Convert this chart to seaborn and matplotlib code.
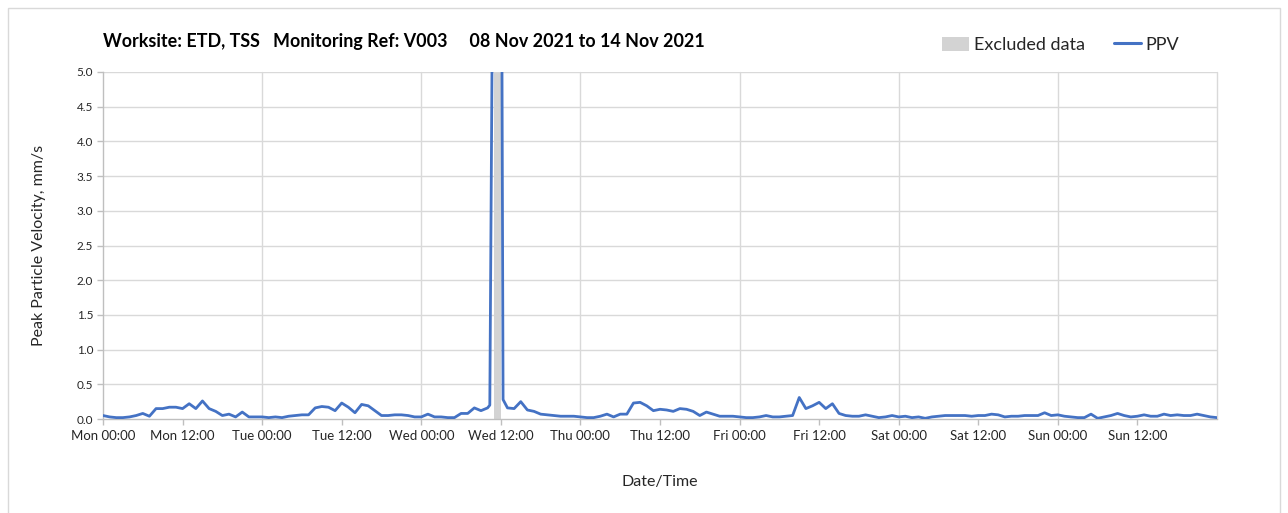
import numpy as np
import pandas as pd
import matplotlib
matplotlib.use("Agg")
import matplotlib.pyplot as plt
import matplotlib.dates as mdates
from matplotlib.patches import Patch, Rectangle
from matplotlib.lines import Line2D
import seaborn as sns

# ---------------- data (hourly PPV, mm/s) ----------------
start = "2021-11-08 00:00"
ppv_mon = [0.05, 0.03, 0.02, 0.02, 0.03, 0.05, 0.08, 0.04, 0.15, 0.15, 0.17, 0.17,
           0.15, 0.22, 0.15, 0.26, 0.15, 0.11, 0.05, 0.07, 0.03, 0.10, 0.03, 0.03]
ppv_tue = [0.03, 0.02, 0.03, 0.02, 0.04, 0.05, 0.06, 0.06, 0.16, 0.18, 0.17, 0.12,
           0.23, 0.17, 0.09, 0.21, 0.19, 0.12, 0.05, 0.05, 0.06, 0.06, 0.05, 0.03]
ppv_wed = [0.03, 0.07, 0.03, 0.03, 0.02, 0.02, 0.08, 0.08, 0.16, 0.12, 0.16, 10.0,
           10.0, 0.16, 0.15, 0.25, 0.13, 0.11, 0.07, 0.06, 0.05, 0.04, 0.04, 0.04]
ppv_thu = [0.03, 0.02, 0.02, 0.04, 0.07, 0.03, 0.07, 0.07, 0.23, 0.24, 0.19, 0.12,
           0.14, 0.13, 0.11, 0.15, 0.14, 0.11, 0.05, 0.10, 0.07, 0.04, 0.04, 0.04]
ppv_fri = [0.03, 0.02, 0.02, 0.03, 0.05, 0.03, 0.03, 0.04, 0.05, 0.31, 0.15, 0.19,
           0.24, 0.15, 0.22, 0.08, 0.05, 0.04, 0.04, 0.06, 0.04, 0.02, 0.03, 0.05]
ppv_sat = [0.03, 0.04, 0.02, 0.03, 0.01, 0.03, 0.04, 0.05, 0.05, 0.05, 0.05, 0.04,
           0.05, 0.05, 0.07, 0.06, 0.03, 0.04, 0.04, 0.05, 0.05, 0.05, 0.09, 0.05]
ppv_sun = [0.06, 0.04, 0.03, 0.02, 0.02, 0.07, 0.01, 0.03, 0.05, 0.08, 0.05, 0.03,
           0.04, 0.06, 0.04, 0.04, 0.07, 0.05, 0.06, 0.05, 0.05, 0.07, 0.05, 0.03]
ppv_end = [0.02]

# extra readings around the excluded event
extra_times = ["2021-11-10 10:20", "2021-11-10 12:20"]
extra_ppv = [0.20, 0.28]

excluded_start = "2021-11-10 11:00"
excluded_end = "2021-11-10 12:00"

title = "Worksite: ETD, TSS   Monitoring Ref: V003     08 Nov 2021 to 14 Nov 2021"
ylabel = "Peak Particle Velocity, mm/s"
xlabel = "Date/Time"

# ---------------- build frame ----------------
hourly = ppv_mon + ppv_tue + ppv_wed + ppv_thu + ppv_fri + ppv_sat + ppv_sun + ppv_end
times = pd.date_range(start, periods=len(hourly), freq="h")
df = pd.DataFrame({"time": list(times) + list(pd.to_datetime(extra_times)),
                   "ppv": hourly + extra_ppv}).sort_values("time").reset_index(drop=True)

# ---------------- style ----------------
sns.set_theme(style="white")
plt.rcParams["font.family"] = ["Lato", "DejaVu Sans"]

blue = "#4472C4"
grid_c = "#D9D9D9"
axis_c = "#BFBFBF"
text_c = "#262626"

fig = plt.figure(figsize=(12.88, 5.13), dpi=100)
ax = fig.add_axes([103 / 1288, 1 - 419 / 513, (1217 - 103) / 1288, (419 - 72) / 513])

ax.axvspan(pd.Timestamp(excluded_start), pd.Timestamp(excluded_end),
           color="#D3D3D3", lw=0, zorder=1)
sns.lineplot(data=df, x="time", y="ppv", ax=ax, color=blue, linewidth=2.0,
             zorder=3, legend=False)

x0 = pd.Timestamp(start)
x1 = x0 + pd.Timedelta(days=7)
ax.set_xlim(x0, x1)
ax.set_ylim(0, 5.0)

ax.set_yticks(np.arange(0, 5.01, 0.5))
ax.yaxis.set_major_formatter(matplotlib.ticker.FormatStrFormatter("%.1f"))
ax.set_xticks(pd.date_range(x0, x1 - pd.Timedelta(hours=12), freq="12h"))
ax.xaxis.set_major_formatter(mdates.DateFormatter("%a %H:%M"))

# grid: horizontal every 0.5, vertical at day boundaries
for v in np.arange(0.5, 5.01, 0.5):
    ax.axhline(v, color=grid_c, lw=1.0, zorder=0)
for d in pd.date_range(x0 + pd.Timedelta(days=1), x1, freq="D"):
    ax.axvline(d, color=grid_c, lw=1.0, zorder=0, clip_on=False)

for s in ["top", "right"]:
    ax.spines[s].set_visible(False)
for s in ["left", "bottom"]:
    ax.spines[s].set_color(axis_c)
    ax.spines[s].set_linewidth(1.0)

ax.tick_params(axis="both", which="major", direction="out", length=4, width=1,
               color=axis_c, labelcolor=text_c)
ax.tick_params(axis="x", labelsize=9.5, pad=4)
ax.tick_params(axis="y", labelsize=8.5, pad=3)
ax.tick_params(bottom=True, left=True)

ax.set_xlabel(xlabel, fontsize=11.5, color=text_c, labelpad=24)
ax.set_ylabel(ylabel, fontsize=11.5, color=text_c, labelpad=22)

fig.text(103 / 1288, 1 - 42 / 513, title, fontsize=12.9, fontweight="bold",
         color="#000000", ha="left", va="center")

handles = [Patch(facecolor="#D3D3D3", edgecolor="none"),
           Line2D([0], [0], color=blue, lw=2.2)]
fig.legend(handles, ["Excluded data", "PPV"], loc="center left",
           bbox_to_anchor=(926 / 1288, 1 - 45 / 513), ncol=2, frameon=False,
           fontsize=13, handlelength=1.5, handleheight=0.8, handletextpad=0.25,
           columnspacing=1.6, labelcolor=text_c)

fig.patches.append(Rectangle((8 / 1288, -0.02), 1272 / 1288, 1 - 8 / 513 + 0.02,
                             transform=fig.transFigure, fill=False,
                             edgecolor="#D9D9D9", lw=1.0))

fig.savefig("out.png", dpi=100, facecolor="white")
